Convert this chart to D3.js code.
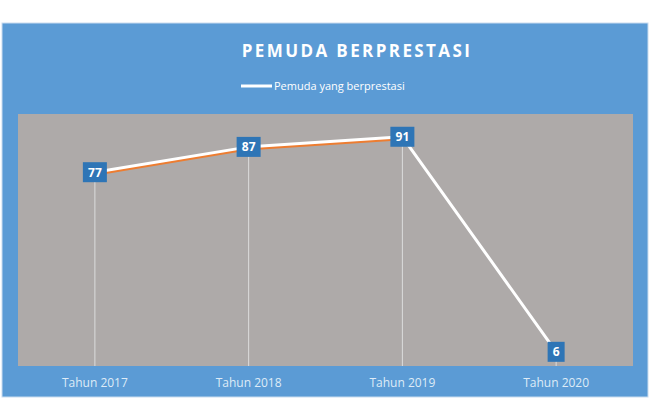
<!DOCTYPE html>
<html>
<head>
<meta charset="utf-8">
<script src="https://cdn.jsdelivr.net/npm/d3@7"></script>
<style>
body { margin: 0; background: #fff; }
</style>
</head>
<body>
<div id="chart"></div>
<script>
var categories = ["Tahun 2017", "Tahun 2018", "Tahun 2019", "Tahun 2020"];
var values = [77, 87, 91, 6];
var seriesName = "Pemuda yang berprestasi";
var title = "PEMUDA BERPRESTASI";

var width = 651, height = 405;
var panelBlue = "#5B9BD5";
var plotGray = "#AEAAA9";
var labelBlue = "#2E75B6";
var orange = "#ED7D31";

var svg = d3.select("#chart").append("svg")
    .attr("width", width)
    .attr("height", height);

// blue chart background
svg.append("rect")
    .attr("x", 2).attr("y", 23)
    .attr("width", 646).attr("height", 374)
    .attr("fill", panelBlue)
    .attr("stroke", "#c9dcef").attr("stroke-width", 1);

var plot = {left: 18, right: 633, top: 114, bottom: 366};

svg.append("rect")
    .attr("x", plot.left).attr("y", plot.top)
    .attr("width", plot.right - plot.left)
    .attr("height", plot.bottom - plot.top)
    .attr("fill", plotGray);

var x = d3.scaleBand()
    .domain(categories)
    .range([plot.left, plot.right]);

var y = d3.scaleLinear()
    .domain([0, 100])
    .range([367, 114]);

var cx = function(d, i) { return x(categories[i]) + x.bandwidth() / 2; };

// drop lines
svg.selectAll("line.drop")
    .data(values)
    .join("line")
    .attr("class", "drop")
    .attr("x1", cx).attr("x2", cx)
    .attr("y1", function(d) { return y(d); })
    .attr("y2", plot.bottom)
    .attr("stroke", "#dcdcdc")
    .attr("stroke-width", 1);

var line = d3.line()
    .x(function(d, i) { return cx(d, i); })
    .y(function(d) { return y(d); });

// orange shadow under first three points
var rising = values.slice(0, 3);
svg.append("path")
    .attr("d", line(rising))
    .attr("transform", "translate(0,2)")
    .attr("fill", "none")
    .attr("stroke", orange)
    .attr("stroke-width", 3);

svg.append("path")
    .attr("d", line(values))
    .attr("fill", "none")
    .attr("stroke", "#ffffff")
    .attr("stroke-width", 3)
    .attr("stroke-linejoin", "round");

// data labels
var lab = svg.selectAll("g.lab")
    .data(values)
    .join("g")
    .attr("class", "lab")
    .attr("transform", function(d, i) { return "translate(" + cx(d, i) + "," + y(d) + ")"; });

lab.append("rect")
    .attr("x", function(d) { return d < 10 ? -8.5 : -12; })
    .attr("y", -10)
    .attr("width", function(d) { return d < 10 ? 17 : 24; })
    .attr("height", 20)
    .attr("fill", labelBlue);

lab.append("text")
    .attr("text-anchor", "middle")
    .attr("dy", "0.36em")
    .attr("fill", "#fff")
    .style("font", "bold 12px 'Open Sans', sans-serif")
    .text(function(d) { return d; });

// x axis labels
svg.selectAll("text.xlab")
    .data(categories)
    .join("text")
    .attr("class", "xlab")
    .attr("x", function(d) { return x(d) + x.bandwidth() / 2; })
    .attr("y", 387)
    .attr("text-anchor", "middle")
    .attr("fill", "#deebf7")
    .style("font", "12px 'Open Sans', sans-serif")
    .text(function(d) { return d; });

// title
svg.append("text")
    .attr("x", 357).attr("y", 57)
    .attr("text-anchor", "middle")
    .attr("fill", "#fff")
    .style("font", "bold 17px 'Open Sans', sans-serif")
    .style("letter-spacing", "2.4px")
    .text(title);

// legend
svg.append("line")
    .attr("x1", 241).attr("x2", 272)
    .attr("y1", 86).attr("y2", 86)
    .attr("stroke", "#fff").attr("stroke-width", 3);

svg.append("text")
    .attr("x", 274).attr("y", 90)
    .attr("fill", "#fff")
    .style("font", "11px 'Open Sans', sans-serif")
    .text(seriesName);
</script>
</body>
</html>
